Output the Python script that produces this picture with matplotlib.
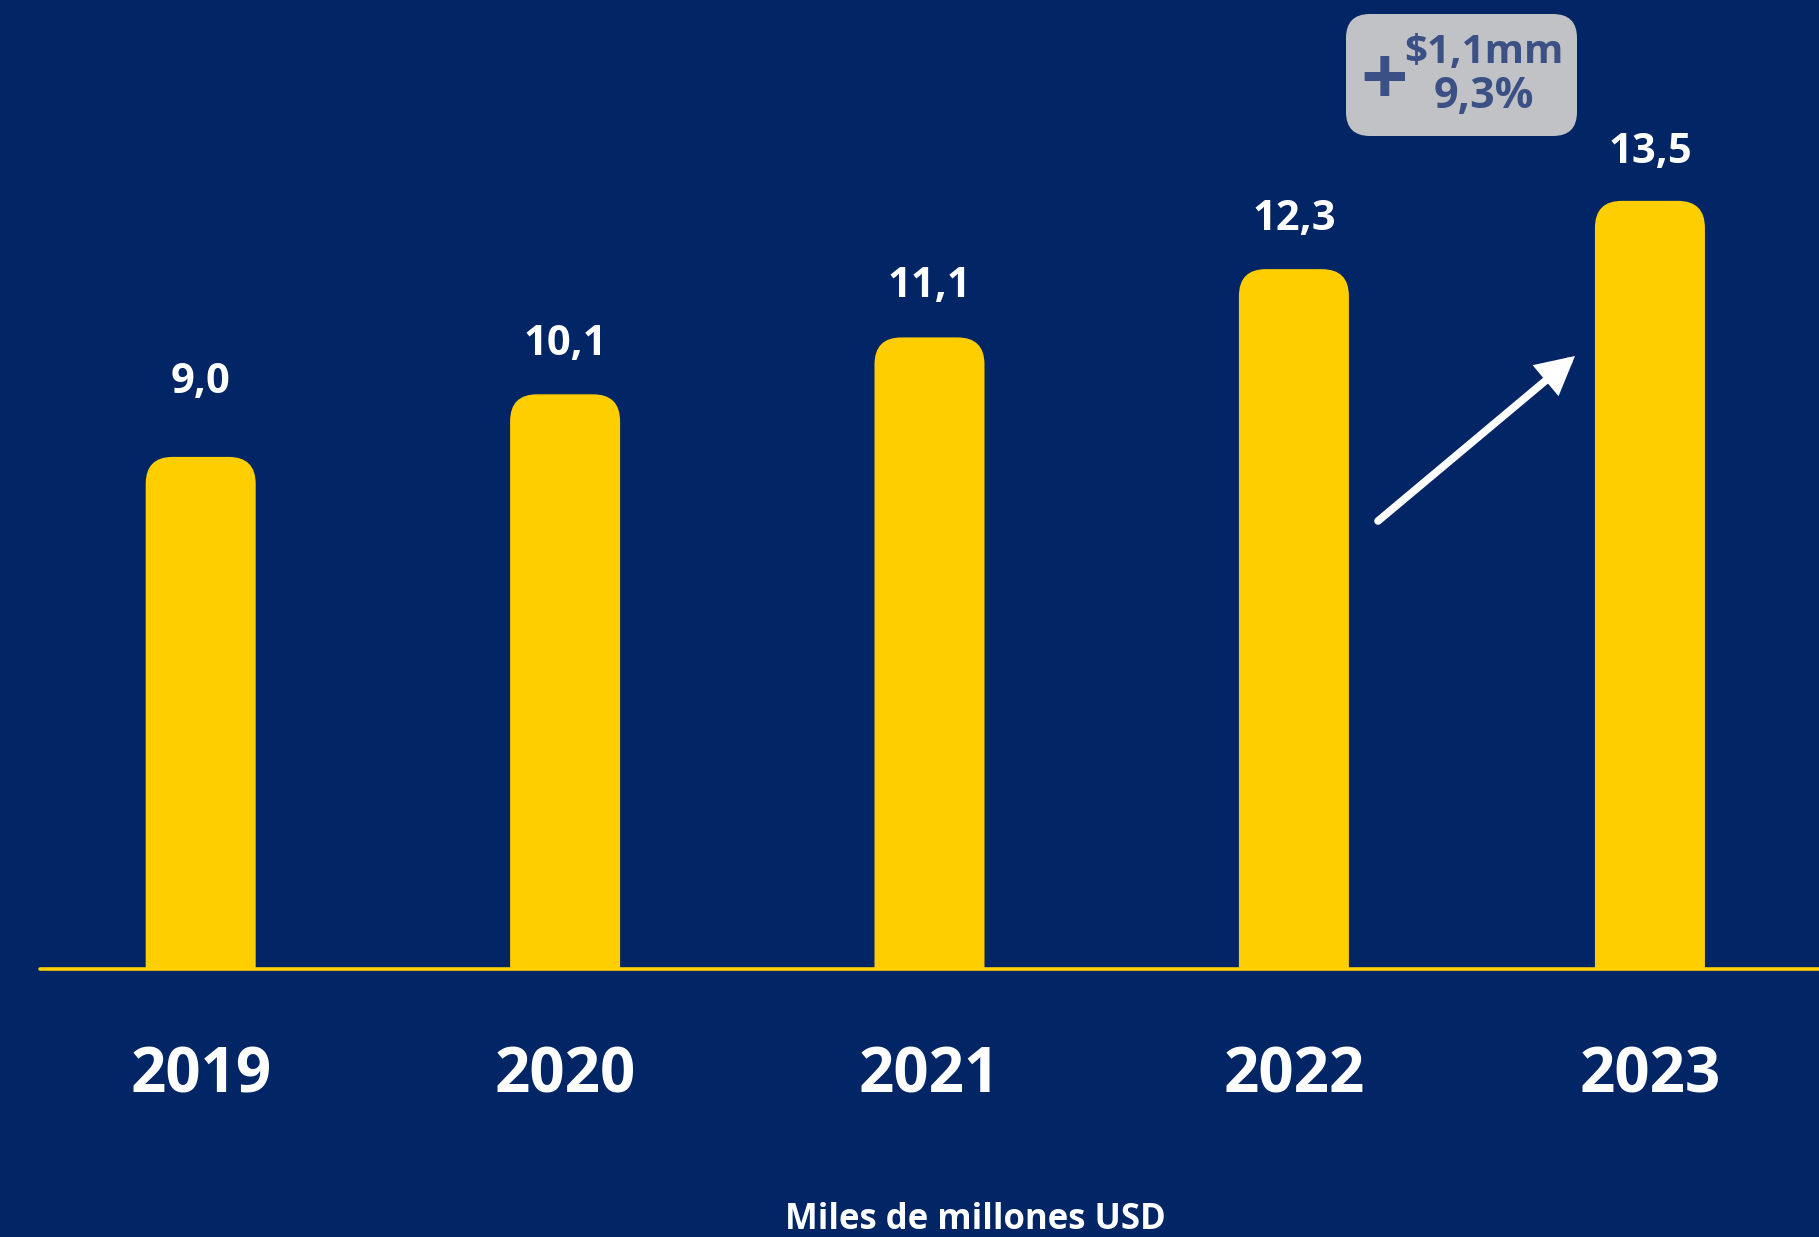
import matplotlib
matplotlib.use('Agg')
import matplotlib.pyplot as plt
from matplotlib.patches import FancyBboxPatch
import numpy as np

# data
years = ['2019', '2020', '2021', '2022', '2023']
values = [9.0, 10.1, 11.1, 12.3, 13.5]
value_labels = ['9,0', '10,1', '11,1', '12,3', '13,5']
growth_abs = '$1,1mm'
growth_pct = '9,3%'
unit_label = 'Miles de millones USD'

BG = '#012565'
YELLOW = '#FFCE00'
BOX = '#C1C2C5'
BOX_TEXT = '#3B5185'
FONT = 'Open Sans'

W, H = 1819, 1237
px_x = 364.4      # pixels per x unit
px_y = 56.9       # pixels per value unit
base_px = 969     # baseline, pixels from top

fig = plt.figure(figsize=(W / 100, H / 100), dpi=100, facecolor=BG)
ax = fig.add_axes([0, (H - base_px) / H, 1, base_px / H])
ax.set_facecolor(BG)
ax.axis('off')
x0 = -200.7 / px_x
ax.set_xlim(x0, x0 + W / px_x)
ax.set_ylim(0, base_px / px_y)

xpos = np.array([0, 1, 2, 3, 3.977])
bar_w = 110 / px_x
bars = ax.bar(xpos, values, width=bar_w, color=YELLOW)

# rounded tops
r = 27 / px_x
aspect = px_x / px_y
for rect in bars:
    rect.set_visible(False)
    x, w, h = rect.get_x(), rect.get_width(), rect.get_height()
    p = FancyBboxPatch((x, -1), w, h + 1,
                       boxstyle=f"round,pad=0,rounding_size={r}",
                       mutation_aspect=aspect, fc=YELLOW, ec='none', zorder=2)
    ax.add_patch(p)

# baseline
ax.plot([(40 - 200.7) / px_x, x0 + W / px_x], [0, 0], color=YELLOW, lw=2.6,
        solid_capstyle='round', clip_on=False, zorder=3)

# value labels (gap above bar in points)
label_gap = [46, 28, 29, 28, 27]
for x, v, lab, g in zip(xpos, values, value_labels, label_gap):
    ax.annotate(lab, (x, v), xytext=(0, g), textcoords='offset points',
                ha='center', va='baseline', color='white', fontsize=30,
                fontweight='bold', family=FONT, annotation_clip=False)

# year labels
for x, yr in zip(xpos, years):
    ax.annotate(yr, (x, 0), xytext=(0, -89), textcoords='offset points',
                ha='center', va='baseline', color='white', fontsize=44.5,
                fontweight='bold', family=FONT, annotation_clip=False)

# overlay in pixel coordinates
ov = fig.add_axes([0, 0, 1, 1])
ov.set_xlim(0, W)
ov.set_ylim(H, 0)
ov.axis('off')
ov.patch.set_alpha(0)

ov.add_patch(FancyBboxPatch((1346, 14), 231, 122,
                            boxstyle="round,pad=0,rounding_size=24",
                            fc=BOX, ec='none'))
ov.text(1384, 84, '+', ha='center', va='center', color=BOX_TEXT, fontsize=60,
        fontweight='bold', family=FONT)
ov.text(1484, 52, growth_abs, ha='center', va='center', color=BOX_TEXT,
        fontsize=29, fontweight='bold', family=FONT)
ov.text(1484, 96, growth_pct, ha='center', va='center', color=BOX_TEXT,
        fontsize=31, fontweight='bold', family=FONT)

ov.annotate('', xy=(1575, 356), xytext=(1378, 521),
            arrowprops=dict(arrowstyle='-|>,head_length=0.95,head_width=0.5',
                            mutation_scale=20, lw=5.5, color='white',
                            capstyle='round', joinstyle='miter',
                            shrinkA=0, shrinkB=0))

ov.text(975, 1220, unit_label, ha='center', va='center', color='white',
        fontsize=25, fontweight='bold', family=FONT)

fig.savefig('out.png', dpi=100, facecolor=BG)
